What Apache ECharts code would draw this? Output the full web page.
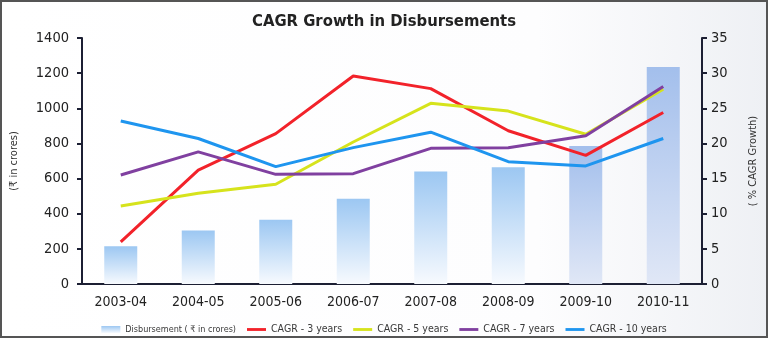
<!DOCTYPE html>
<html>
<head>
<meta charset="utf-8">
<script src="https://cdn.jsdelivr.net/npm/echarts@6/dist/echarts.min.js"></script>
<style>
html,body{margin:0;padding:0;background:#fff;}
#chart{width:768px;height:338px;}
</style>
</head>
<body>
<div id="chart"></div>
<script>
var categories = ['2003-04','2004-05','2005-06','2006-07','2007-08','2008-09','2009-10','2010-11'];
var disbursement = [215, 305, 365, 485, 640, 665, 785, 1235];
var cagr3 = [6.0, 16.2, 21.4, 29.6, 27.8, 21.8, 18.3, 24.4];
var cagr5 = [11.1, 12.9, 14.2, 20.2, 25.7, 24.6, 21.3, 27.7];
var cagr7 = [15.5, 18.8, 15.6, 15.7, 19.3, 19.4, 21.1, 28.1];
var cagr10 = [23.2, 20.7, 16.7, 19.4, 21.6, 17.4, 16.8, 20.7];
var leftTicks = [0, 1400, 200];
var rightTicks = [0, 35, 5];

var FONT = '"DejaVu Sans Condensed", "DejaVu Sans", sans-serif';
var chart = echarts.init(document.getElementById('chart'), null, {renderer: 'canvas'});

function grad(top, bottom) {
  return new echarts.graphic.LinearGradient(0, 0, 0, 1, [
    {offset: 0, color: top}, {offset: 1, color: bottom}
  ]);
}
var barData = disbursement.map(function (v, i) {
  return {
    value: v,
    itemStyle: {color: i >= 6 ? grad('#a3bfec', '#e0e7f6') : grad('#9cc7f2', '#f7fafe')}
  };
});

function lineSeries(name, data, color) {
  return {
    name: name, type: 'line', yAxisIndex: 1, data: data,
    symbol: 'none', smooth: false,
    lineStyle: {color: color, width: 3},
    itemStyle: {color: color},
    z: 3
  };
}

var LINE_ICON = 'path://M0,0L0,0M0,2L20,2L20,5L0,5ZM20,7L20,7';
var axisColor = '#1c1f33';
var option = {
  animation: false,
  backgroundColor: new echarts.graphic.LinearGradient(0, 0, 1, 0, [
    {offset: 0, color: '#ffffff'}, {offset: 0.7, color: '#fdfdfe'}, {offset: 1, color: '#eef0f4'}
  ]),
  title: {
    text: 'CAGR Growth in Disbursements',
    left: 'center', top: 8,
    textStyle: {fontFamily: FONT, fontSize: 16.5, fontWeight: 'bold', color: '#222'}
  },
  legend: {
    top: 319, left: 'center',
    itemWidth: 19, itemHeight: 7, itemGap: 11,
    textStyle: {fontFamily: FONT, fontSize: 10.5, color: '#3a3a3a'},
    data: [
      {name: 'Disbursement ( ₹ in crores)', icon: 'rect', textStyle: {fontSize: 9}},
      {name: 'CAGR - 3 years', icon: LINE_ICON},
      {name: 'CAGR - 5 years', icon: LINE_ICON},
      {name: 'CAGR - 7 years', icon: LINE_ICON},
      {name: 'CAGR - 10 years', icon: LINE_ICON}
    ]
  },
  grid: {left: 82, right: 66, top: 38, bottom: 54},
  xAxis: {
    type: 'category', data: categories, boundaryGap: true,
    axisLine: {lineStyle: {color: axisColor, width: 2}},
    axisTick: {show: false},
    axisLabel: {fontFamily: FONT, fontSize: 14, color: '#222', margin: 11}
  },
  yAxis: [
    {
      type: 'value', min: leftTicks[0], max: leftTicks[1], interval: leftTicks[2],
      name: '(₹ in crores)', nameLocation: 'middle', nameGap: 62, nameRotate: 90,
      nameTextStyle: {fontFamily: FONT, fontSize: 11, color: '#333'},
      axisLine: {show: true, lineStyle: {color: axisColor, width: 2}},
      axisTick: {show: true, length: 5, lineStyle: {color: axisColor, width: 2}},
      splitLine: {show: false},
      axisLabel: {fontFamily: FONT, fontSize: 14.5, color: '#222', margin: 13,
        formatter: function (v) { return String(v); }}
    },
    {
      type: 'value', position: 'right', min: rightTicks[0], max: rightTicks[1], interval: rightTicks[2],
      name: '( % CAGR Growth)', nameLocation: 'middle', nameGap: 46, nameRotate: 90,
      nameTextStyle: {fontFamily: FONT, fontSize: 11, color: '#333'},
      axisLine: {show: true, lineStyle: {color: axisColor, width: 2}},
      axisTick: {show: true, length: 5, lineStyle: {color: axisColor, width: 2}},
      splitLine: {show: false},
      axisLabel: {fontFamily: FONT, fontSize: 14.5, color: '#222', margin: 9,
        formatter: function (v) { return String(v); }}
    }
  ],
  series: [
    {
      name: 'Disbursement ( ₹ in crores)', type: 'bar', yAxisIndex: 0,
      data: barData, barWidth: 33,
      itemStyle: {color: grad('#9cc7f2', '#f7fafe')},
      z: 1
    },
    lineSeries('CAGR - 3 years', cagr3, '#f2222a'),
    lineSeries('CAGR - 5 years', cagr5, '#d6e31c'),
    lineSeries('CAGR - 7 years', cagr7, '#8040a0'),
    lineSeries('CAGR - 10 years', cagr10, '#1e95ef')
  ],
  graphic: [{
    type: 'rect', silent: true, z: 100,
    shape: {x: 1, y: 1, width: 766, height: 336},
    style: {fill: 'none', stroke: '#555', lineWidth: 2}
  }]
};
chart.setOption(option);
</script>
</body>
</html>
